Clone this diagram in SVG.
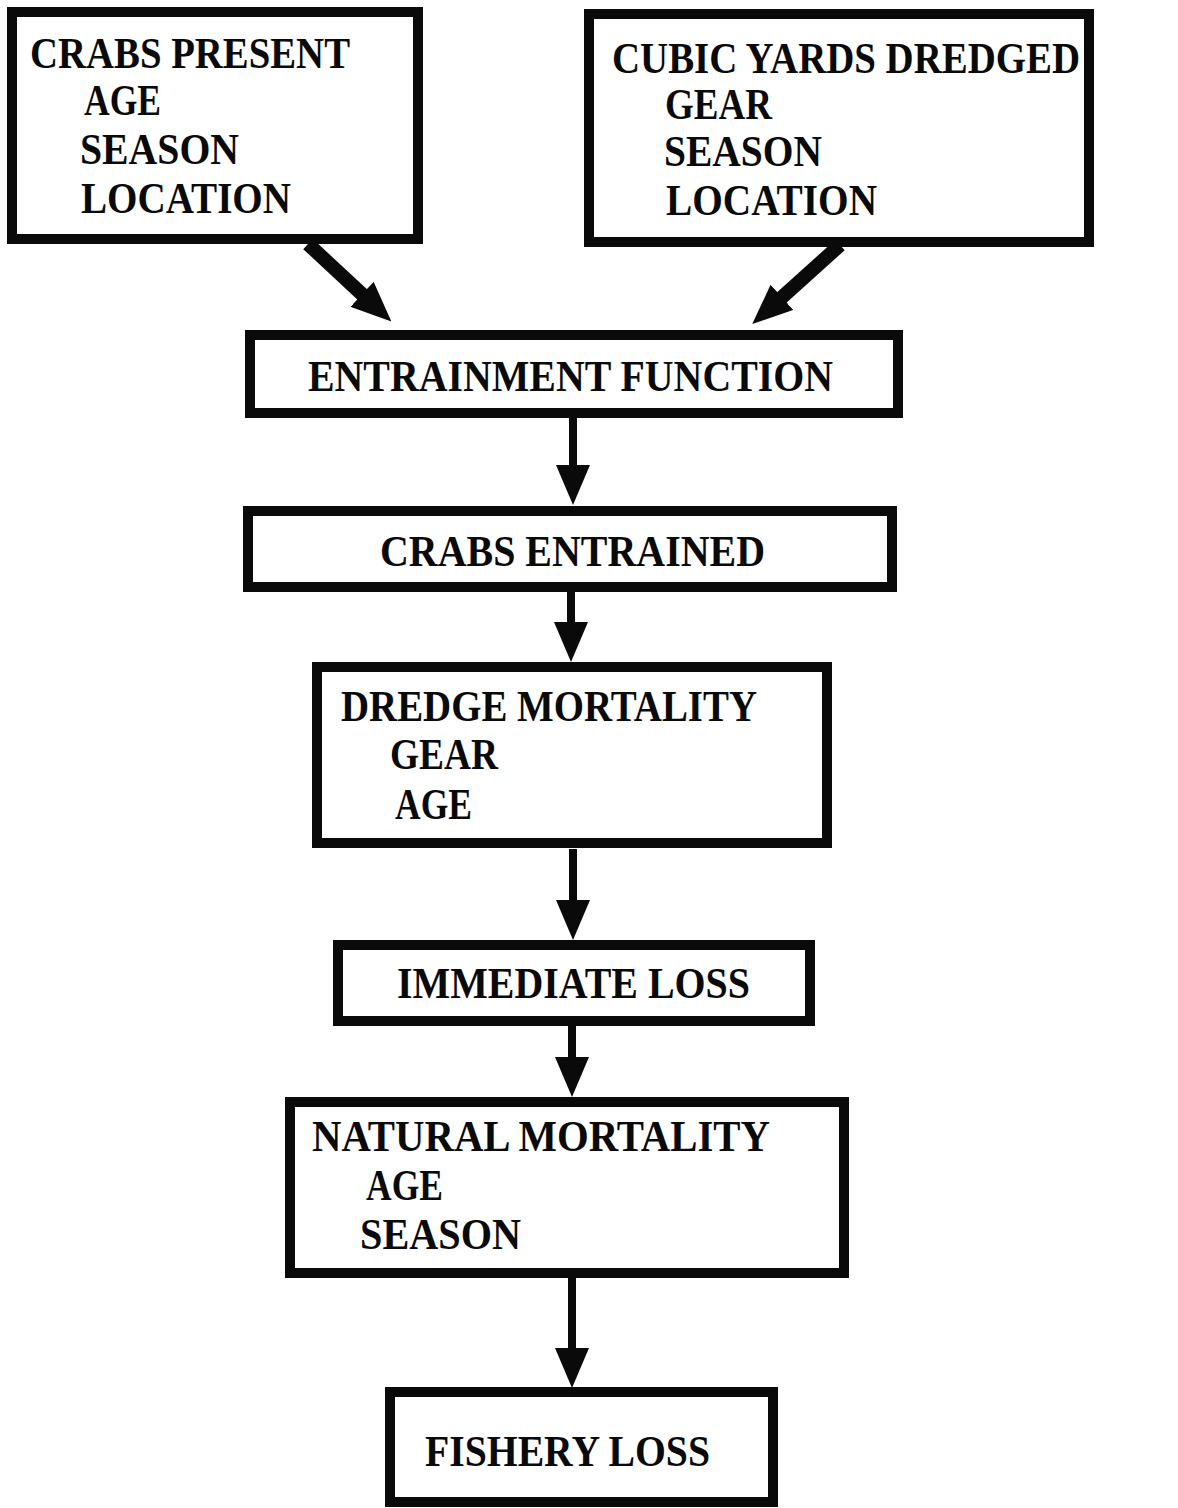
<svg xmlns="http://www.w3.org/2000/svg" width="1178" height="1508" viewBox="0 0 1178 1508">
<style>
.box{fill:#fff;stroke:#0a0a0a;stroke-width:10}
.t{font-family:"Liberation Serif","Times New Roman",serif;font-weight:bold;font-size:44px;fill:#0a0a0a}
.v{stroke:#0a0a0a;stroke-width:8;fill:none}
.d{stroke:#0a0a0a;stroke-width:14;fill:none}
</style>
<defs>
<marker id="ah" viewBox="0 0 40 34" refX="4" refY="17" markerWidth="40" markerHeight="34" markerUnits="userSpaceOnUse" orient="auto">
<path d="M0,0 L40,17 L0,34 Z" fill="#0a0a0a"/>
</marker>
</defs>
<rect width="1178" height="1508" fill="#fff"/>
<g id="connectors">
<path class="d" d="M308,244 L365,297" marker-end="url(#ah)"/>
<path class="d" d="M840,245 L779,300" marker-end="url(#ah)"/>
<path class="v" d="M573,418 L573,469" marker-end="url(#ah)"/>
<path class="v" d="M571,592 L571,626" marker-end="url(#ah)"/>
<path class="v" d="M573,849 L573,904" marker-end="url(#ah)"/>
<path class="v" d="M572,1025 L572,1061" marker-end="url(#ah)"/>
<path class="v" d="M572,1277 L572,1352" marker-end="url(#ah)"/>
</g>
<g id="crabs-present">
<rect class="box" x="12" y="12" width="406" height="227"/>
<text class="t" x="30" y="68" textLength="320" lengthAdjust="spacingAndGlyphs">CRABS PRESENT</text>
<text class="t" x="84" y="115" textLength="77" lengthAdjust="spacingAndGlyphs">AGE</text>
<text class="t" x="80" y="164" textLength="159" lengthAdjust="spacingAndGlyphs">SEASON</text>
<text class="t" x="81" y="213" textLength="210" lengthAdjust="spacingAndGlyphs">LOCATION</text>
</g>
<g id="cubic-yards">
<rect class="box" x="589" y="14" width="500" height="228"/>
<text class="t" x="612" y="73" textLength="468" lengthAdjust="spacingAndGlyphs">CUBIC YARDS DREDGED</text>
<text class="t" x="665" y="119" textLength="107" lengthAdjust="spacingAndGlyphs">GEAR</text>
<text class="t" x="664" y="166" textLength="158" lengthAdjust="spacingAndGlyphs">SEASON</text>
<text class="t" x="666" y="215" textLength="211" lengthAdjust="spacingAndGlyphs">LOCATION</text>
</g>
<g id="entrainment-function">
<rect class="box" x="250" y="335" width="648" height="78"/>
<text class="t" x="308" y="391" textLength="525" lengthAdjust="spacingAndGlyphs">ENTRAINMENT FUNCTION</text>
</g>
<g id="crabs-entrained">
<rect class="box" x="248" y="511" width="644" height="76"/>
<text class="t" x="380" y="566" textLength="385" lengthAdjust="spacingAndGlyphs">CRABS ENTRAINED</text>
</g>
<g id="dredge-mortality">
<rect class="box" x="317" y="667" width="510" height="176"/>
<text class="t" x="341" y="721" textLength="416" lengthAdjust="spacingAndGlyphs">DREDGE MORTALITY</text>
<text class="t" x="390" y="769" textLength="108" lengthAdjust="spacingAndGlyphs">GEAR</text>
<text class="t" x="395" y="819" textLength="77" lengthAdjust="spacingAndGlyphs">AGE</text>
</g>
<g id="immediate-loss">
<rect class="box" x="338" y="945" width="472" height="76"/>
<text class="t" x="397" y="998" textLength="353" lengthAdjust="spacingAndGlyphs">IMMEDIATE LOSS</text>
</g>
<g id="natural-mortality">
<rect class="box" x="290" y="1102" width="554" height="171"/>
<text class="t" x="312" y="1151" textLength="458" lengthAdjust="spacingAndGlyphs">NATURAL MORTALITY</text>
<text class="t" x="366" y="1200" textLength="77" lengthAdjust="spacingAndGlyphs">AGE</text>
<text class="t" x="360" y="1249" textLength="161" lengthAdjust="spacingAndGlyphs">SEASON</text>
</g>
<g id="fishery-loss">
<rect class="box" x="390" y="1392" width="383" height="110"/>
<text class="t" x="425" y="1466" textLength="285" lengthAdjust="spacingAndGlyphs">FISHERY LOSS</text>
</g>
</svg>
